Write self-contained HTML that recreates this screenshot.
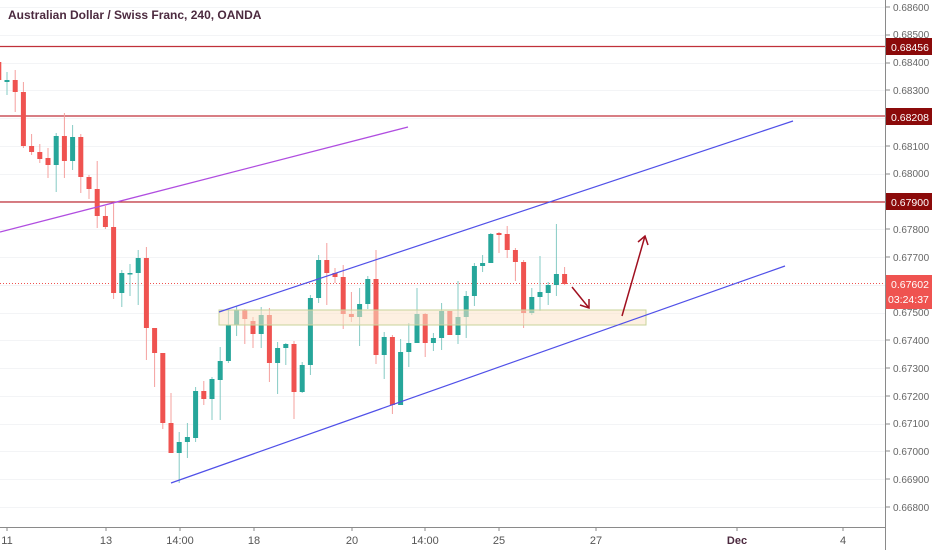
<!DOCTYPE html>
<html><head><meta charset="utf-8"><style>
html,body{margin:0;padding:0;background:#fff;}
svg{display:block;font-family:"Liberation Sans",sans-serif;}
</style></head><body>
<svg width="932" height="550" xmlns="http://www.w3.org/2000/svg">
<rect width="932" height="550" fill="#fff"/>
<g stroke="#f3f4f6" stroke-width="1">
<line x1="0" y1="7.5" x2="885" y2="7.5"/><line x1="0" y1="35.5" x2="885" y2="35.5"/><line x1="0" y1="63.5" x2="885" y2="63.5"/><line x1="0" y1="90.5" x2="885" y2="90.5"/><line x1="0" y1="118.5" x2="885" y2="118.5"/><line x1="0" y1="146.5" x2="885" y2="146.5"/><line x1="0" y1="174.5" x2="885" y2="174.5"/><line x1="0" y1="201.5" x2="885" y2="201.5"/><line x1="0" y1="229.5" x2="885" y2="229.5"/><line x1="0" y1="257.5" x2="885" y2="257.5"/><line x1="0" y1="285.5" x2="885" y2="285.5"/><line x1="0" y1="313.5" x2="885" y2="313.5"/><line x1="0" y1="340.5" x2="885" y2="340.5"/><line x1="0" y1="368.5" x2="885" y2="368.5"/><line x1="0" y1="396.5" x2="885" y2="396.5"/><line x1="0" y1="424.5" x2="885" y2="424.5"/><line x1="0" y1="451.5" x2="885" y2="451.5"/><line x1="0" y1="479.5" x2="885" y2="479.5"/><line x1="0" y1="507.5" x2="885" y2="507.5"/>
</g>
<text x="8" y="19" font-size="12" font-weight="bold" fill="#4c2a3f">Australian Dollar / Swiss Franc, 240, OANDA</text>
<g stroke="#c0313a" stroke-width="1.2">
<line x1="0" y1="46.5" x2="885" y2="46.5"/><line x1="0" y1="116" x2="885" y2="116"/><line x1="0" y1="202" x2="885" y2="202"/>
</g>
<line x1="0" y1="283.5" x2="885" y2="283.5" stroke="#ef5350" stroke-dasharray="1,2" stroke-width="1"/>
<path stroke="#f4a09e" stroke-width="1" fill="none" d="M-1.2 55V82 M15.2 70V112 M23.4 82V148 M31.6 134V155 M39.8 144V163 M48 148V178 M64.4 113V178 M80.8 134V193 M89 175V199 M97.2 161V228 M105.4 206V229 M113.6 203V299 M146.4 247V360 M154.6 328V387 M162.8 353V429 M171 393V453 M203.8 381V405 M244.8 309V344 M253 317V348 M269.4 308V382 M294 341V419 M326.8 243V305 M335 268V283 M343.2 265V329 M351.4 292V322 M376 250V364 M392.4 335V414 M425.2 313V357 M449.8 311V335 M499 232V253 M507.2 226V258 M515.4 248V281 M523.6 260V328 M564.6 267V285"/>
<path stroke="#86cbc4" stroke-width="1" fill="none" d="M7 72V95 M56.2 133V192 M72.6 125V170 M121.8 270V307 M130 264V296 M138.2 250V305 M179.2 432V483 M187.4 423V458 M195.6 387V442 M212 377V420 M220.2 347V420 M228.4 310V363 M236.6 306V336 M261.2 307V348 M277.6 342V394 M285.8 343V365 M302.2 362V393 M310.4 295V375 M318.6 255V303 M359.6 288V346 M367.8 276V309 M384.2 332V379 M400.6 339V405 M408.8 323V367 M417 288V343 M433.4 333V351 M441.6 303V350 M458 281V344 M466.2 291V338 M474.4 263V306 M482.6 255V272 M490.8 233V263 M531.8 288V315 M540 256V311 M548.2 282V305 M556.4 224V296"/>
<path fill="#ef5350" d="M-3.7 62h5v18h-5z M12.7 80h5v12h-5z M20.9 92h5v54h-5z M29.1 146h5v6h-5z M37.3 152h5v7h-5z M45.5 158h5v7h-5z M61.9 136h5v25h-5z M78.3 137h5v40h-5z M86.5 177h5v12h-5z M94.7 189h5v27h-5z M102.9 216h5v11h-5z M111.1 227h5v66h-5z M143.9 258h5v70h-5z M152.1 328h5v25h-5z M160.3 353h5v70h-5z M168.5 423h5v30h-5z M201.3 391h5v8h-5z M242.3 310h5v9h-5z M250.5 321h5v13h-5z M266.9 315h5v48h-5z M291.5 344h5v48h-5z M324.3 260h5v13h-5z M332.5 273h5v4h-5z M340.7 277h5v37h-5z M348.9 314h5v3h-5z M373.5 279h5v76h-5z M389.9 337h5v68h-5z M422.7 314h5v29h-5z M447.3 311h5v24h-5z M496.5 233h5v2h-5z M504.7 234h5v16h-5z M512.9 250h5v12h-5z M521.1 262h5v51h-5z M562.1 274h5v10h-5z"/>
<path fill="#26a69a" d="M4.5 80h5v2h-5z M53.7 136h5v29h-5z M70.1 137h5v24h-5z M119.3 273h5v20h-5z M127.5 273h5v1.5h-5z M135.7 258h5v15h-5z M176.7 442h5v11h-5z M184.9 437h5v5h-5z M193.1 391h5v47h-5z M209.5 379h5v20h-5z M217.7 361h5v19h-5z M225.9 325h5v36h-5z M234.1 310h5v15h-5z M258.7 315h5v19h-5z M275.1 348h5v15h-5z M283.3 344h5v4h-5z M299.7 365h5v27h-5z M307.9 298h5v67h-5z M316.1 260h5v38h-5z M357.1 304h5v13h-5z M365.3 279h5v25h-5z M381.7 337h5v18h-5z M398.1 352h5v53h-5z M406.3 343h5v9h-5z M414.5 314h5v29h-5z M430.9 338h5v5h-5z M439.1 311h5v27h-5z M455.5 317h5v18h-5z M463.7 296h5v21h-5z M471.9 266h5v30h-5z M480.1 263h5v3h-5z M488.3 234h5v29h-5z M529.3 297h5v16h-5z M537.5 292h5v5h-5z M545.7 285h5v8h-5z M553.9 274h5v11h-5z"/>
<rect x="219" y="310" width="427" height="15" fill="#fbe3c9" fill-opacity="0.55" stroke="#c8d39a" stroke-width="1"/>
<line x1="0" y1="232" x2="408" y2="127" stroke="#b04de0" stroke-width="1.3"/>
<line x1="219" y1="312" x2="793" y2="121" stroke="#5050e8" stroke-width="1.2"/>
<line x1="171" y1="483" x2="785" y2="266" stroke="#5050e8" stroke-width="1.2"/>
<g stroke="#a01020" stroke-width="1.5" fill="none">
<line x1="572" y1="287" x2="589" y2="308"/><polyline points="580,305 589,308 589,299"/>
<line x1="622" y1="316" x2="645" y2="236"/><polyline points="638,242 645,236 648,245"/>
</g>
<line x1="885.5" y1="0" x2="885.5" y2="550" stroke="#8a8a8a"/>
<line x1="0" y1="527.5" x2="885" y2="527.5" stroke="#8a8a8a"/>
<g stroke="#8a8a8a">
<line x1="7" y1="527" x2="7" y2="531"/><line x1="106" y1="527" x2="106" y2="531"/><line x1="180" y1="527" x2="180" y2="531"/><line x1="254" y1="527" x2="254" y2="531"/><line x1="352" y1="527" x2="352" y2="531"/><line x1="425" y1="527" x2="425" y2="531"/><line x1="499" y1="527" x2="499" y2="531"/><line x1="596" y1="527" x2="596" y2="531"/><line x1="737" y1="527" x2="737" y2="531"/><line x1="843" y1="527" x2="843" y2="531"/>
</g>
<g font-size="11" fill="#555" text-anchor="middle">
<text x="7" y="544">11</text><text x="106" y="544">13</text><text x="180" y="544">14:00</text><text x="254" y="544">18</text><text x="352" y="544">20</text><text x="425" y="544">14:00</text><text x="499" y="544">25</text><text x="596" y="544">27</text><text x="737" y="544" fill="#4c2a3f" font-weight="bold">Dec</text><text x="843" y="544">4</text>
</g>
<g font-size="10" fill="#666">
<text x="893" y="11">0.68600</text><text x="893" y="38">0.68500</text><text x="893" y="66">0.68400</text><text x="893" y="94">0.68300</text><text x="893" y="150">0.68100</text><text x="893" y="177">0.68000</text><text x="893" y="233">0.67800</text><text x="893" y="261">0.67700</text><text x="893" y="316">0.67500</text><text x="893" y="344">0.67400</text><text x="893" y="372">0.67300</text><text x="893" y="400">0.67200</text><text x="893" y="427">0.67100</text><text x="893" y="455">0.67000</text><text x="893" y="483">0.66900</text><text x="893" y="511">0.66800</text>
</g>
<g stroke="#8a8a8a"><line x1="886" y1="7" x2="890" y2="7"/><line x1="886" y1="35" x2="890" y2="35"/><line x1="886" y1="63" x2="890" y2="63"/><line x1="886" y1="90" x2="890" y2="90"/><line x1="886" y1="146" x2="890" y2="146"/><line x1="886" y1="174" x2="890" y2="174"/><line x1="886" y1="229" x2="890" y2="229"/><line x1="886" y1="257" x2="890" y2="257"/><line x1="886" y1="340" x2="890" y2="340"/><line x1="886" y1="368" x2="890" y2="368"/><line x1="886" y1="396" x2="890" y2="396"/><line x1="886" y1="424" x2="890" y2="424"/><line x1="886" y1="451" x2="890" y2="451"/><line x1="886" y1="479" x2="890" y2="479"/><line x1="886" y1="507" x2="890" y2="507"/></g>
<rect x="886" y="38" width="46" height="17" fill="#8b0a0a"/><text x="891" y="51" font-size="10.5" fill="#fff">0.68456</text>
<rect x="886" y="108" width="46" height="17" fill="#8b0a0a"/><text x="891" y="121" font-size="10.5" fill="#fff">0.68208</text>
<rect x="886" y="193" width="46" height="17" fill="#8b0a0a"/><text x="891" y="206" font-size="10.5" fill="#fff">0.67900</text>
<rect x="886" y="275" width="46" height="34" fill="#ef5350"/><text x="891" y="288" font-size="10.5" fill="#fff">0.67602</text><text x="888" y="303" font-size="10.5" fill="#fff">03:24:37</text>
</svg>
</body></html>
